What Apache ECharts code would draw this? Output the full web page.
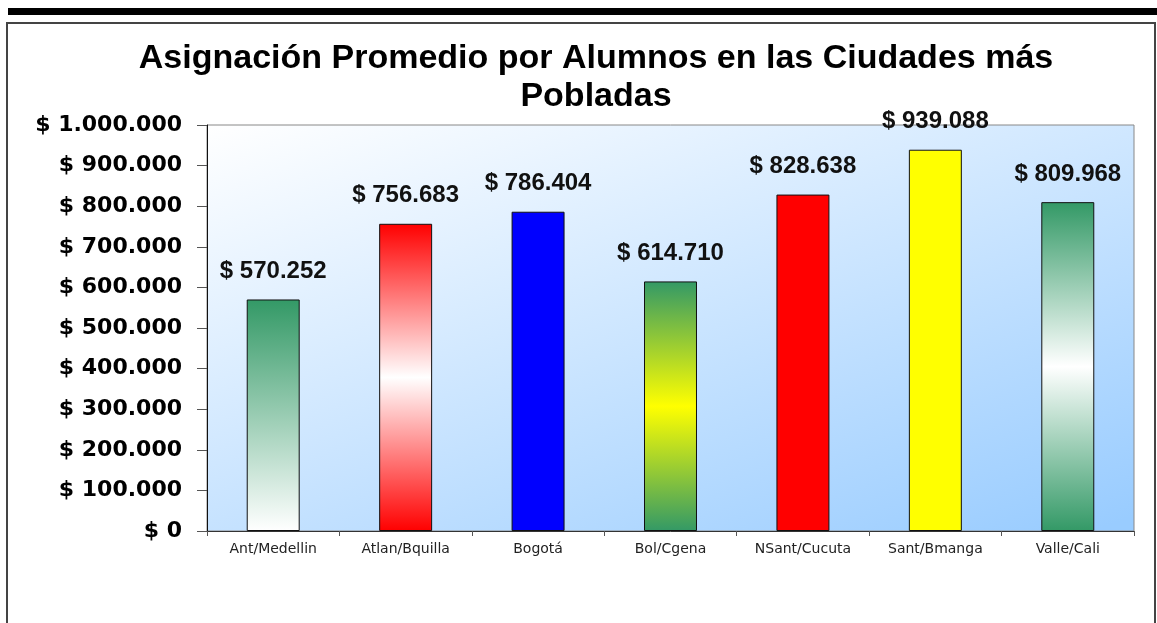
<!DOCTYPE html>
<html>
<head>
<meta charset="utf-8">
<script src="https://cdn.jsdelivr.net/npm/echarts@6/dist/echarts.min.js"></script>
<style>
  html, body { margin: 0; padding: 0; background: #fff; }
  #chart { width: 1157px; height: 623px; }
</style>
</head>
<body>
<div id="chart"></div>
<script>
const categories = ['Ant/Medellin', 'Atlan/Bquilla', 'Bogotá', 'Bol/Cgena', 'NSant/Cucuta', 'Sant/Bmanga', 'Valle/Cali']
const values = [570252, 756683, 786404, 614710, 828638, 939088, 809968]
const yTicks = [0, 100000, 200000, 300000, 400000, 500000, 600000, 700000, 800000, 900000, 1000000]

const green = '#339966'
const vgrad = stops => new echarts.graphic.LinearGradient(0, 0, 0, 1,
  stops.map((c, i) => ({ offset: i / (stops.length - 1), color: c })))

// fill for each bar, in category order
const fills = [
  vgrad([green, '#ffffff']),
  vgrad(['#ff0000', '#ffffff', '#ff0000']),
  '#0000ff',
  vgrad([green, '#ffff00', green]),
  '#ff0000',
  '#ffff00',
  vgrad([green, '#ffffff', green])
]

const money = v => '$ ' + String(v).replace(/\B(?=(\d{3})+(?!\d))/g, '.')

const chart = echarts.init(document.getElementById('chart'))
chart.setOption({
  animation: false,
  title: {
    text: 'Asignación Promedio por Alumnos en las Ciudades más\nPobladas',
    left: 591,
    textAlign: 'center',
    top: 35,
    textStyle: {
      fontFamily: 'Liberation Sans, Arial, sans-serif',
      fontWeight: 'bold',
      fontSize: 34,
      lineHeight: 38,
      color: '#000'
    }
  },
  graphic: [
    { type: 'rect', shape: { x: 8, y: 8, width: 1149, height: 7 }, style: { fill: '#000' }, silent: true },
    { type: 'rect', shape: { x: 7, y: 23, width: 1148, height: 640 }, style: { fill: 'none', stroke: '#444', lineWidth: 2 }, silent: true, z: -1 }
  ],
  grid: {
    left: 207, right: 23, top: 125, bottom: 92,
    show: true,
    borderColor: '#888',
    borderWidth: 1,
    // plot background: white top-left to light blue bottom-right
    backgroundColor: new echarts.graphic.LinearGradient(207, 125, 438, 767, [
      { offset: 0, color: '#ffffff' },
      { offset: 1, color: '#99ccff' }
    ], true)
  },
  xAxis: {
    type: 'category',
    data: categories,
    axisLine: { lineStyle: { color: '#333', width: 1 } },
    axisTick: { show: true, length: 5, lineStyle: { color: '#555' } },
    axisLabel: {
      margin: 11,
      fontFamily: 'DejaVu Sans, sans-serif',
      fontSize: 14,
      color: '#222'
    }
  },
  yAxis: {
    type: 'value',
    min: yTicks[0],
    max: yTicks[yTicks.length - 1],
    interval: yTicks[1] - yTicks[0],
    splitLine: { show: false },
    axisLine: { show: true, lineStyle: { color: '#111', width: 1 } },
    axisTick: { show: true, length: 10, lineStyle: { color: '#555' } },
    axisLabel: {
      margin: 25,
      formatter: money,
      fontFamily: 'DejaVu Sans, sans-serif',
      fontWeight: 'bold',
      fontSize: 22,
      color: '#000'
    }
  },
  series: [{
    type: 'bar',
    barWidth: '40%',
    data: values.map((v, i) => ({
      value: v,
      itemStyle: { color: fills[i], borderColor: '#111', borderWidth: 1 }
    })),
    label: {
      show: true,
      position: 'top',
      distance: 16,
      formatter: p => money(p.value),
      fontFamily: 'Liberation Sans, Arial, sans-serif',
      fontWeight: 'bold',
      fontSize: 24,
      color: '#111'
    }
  }]
})
</script>
</body>
</html>
